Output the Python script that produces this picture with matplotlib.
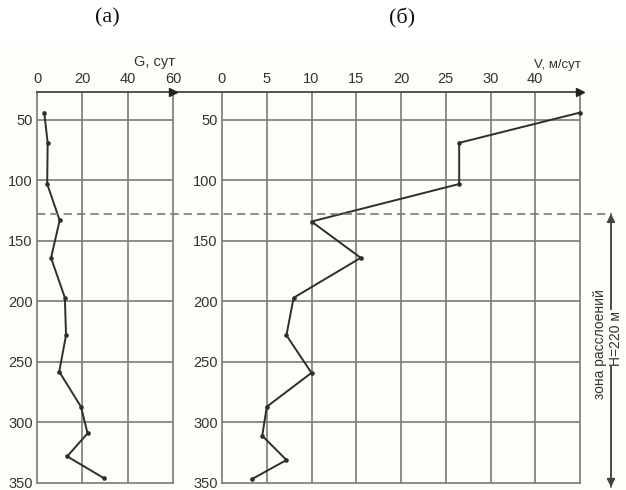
import matplotlib
matplotlib.use("Agg")
import matplotlib.pyplot as plt
from matplotlib.lines import Line2D
from matplotlib.patches import FancyArrowPatch, Rectangle
from matplotlib.transforms import blended_transform_factory

# ---- data ----
depth_G = [44, 69, 103, 133, 164, 197, 228, 258, 287, 309, 328, 346]
G_values = [3.2, 4.7, 4.5, 10.0, 6.2, 12.3, 12.8, 9.8, 19.4, 22.3, 13.3, 29.5]

depth_V = [44, 69, 103, 134, 164, 197, 228, 259, 287, 311, 331, 347]
V_values = [40.0, 26.5, 26.5, 10.0, 15.5, 8.0, 7.2, 10.0, 5.0, 4.5, 7.2, 3.3]

G_ticks = [0, 20, 40, 60]
G_ticklabels = ["0", "20", "40", "60"]
V_ticks = [0, 5, 10, 15, 20, 25, 30, 35]
V_ticklabels = ["0", "5", "10", "15", "20", "25", "30", "40"]
V_grid = [0, 5, 10, 15, 20, 25, 30, 35, 40]
depth_ticks = [50, 100, 150, 200, 250, 300, 350]
zone_top = 127.5

W, H = 626, 490
fig = plt.figure(figsize=(W / 100, H / 100), dpi=100, facecolor="white")
plt.rcParams["font.family"] = ["Liberation Sans", "DejaVu Sans"]

bg = "#fdfdf9"
fig.add_artist(Rectangle((0, 0), 1, (H - 45) / H, transform=fig.transFigure,
                         facecolor=bg, edgecolor="none", zorder=-10))

def fx(px):
    return px / W

def fy(py):
    return (H - py) / H

top_px, bot_px = 92, 483
ax1 = fig.add_axes([fx(37), fy(bot_px), fx(173) - fx(37), fy(top_px) - fy(bot_px)])
ax2 = fig.add_axes([fx(222), fy(bot_px), fx(580) - fx(222), fy(top_px) - fy(bot_px)])

grid_c = "#7a7a7a"
line_c = "#2e2e2e"
txt_c = "#333333"

for ax in (ax1, ax2):
    ax.set_facecolor("none")
    ax.set_ylim(350, 27)
    ax.set_yticks(depth_ticks)
    ax.set_yticklabels([str(d) for d in depth_ticks])
    ax.tick_params(axis="y", length=0, pad=3, labelsize=10.5, labelcolor=txt_c)
    ax.tick_params(axis="x", length=0, pad=4, labelsize=10.5, labelcolor=txt_c,
                   top=True, labeltop=True, bottom=False, labelbottom=False)
    for s in ("left", "right", "bottom"):
        ax.spines[s].set_color(grid_c)
        ax.spines[s].set_linewidth(1.2)
    ax.spines["top"].set_visible(False)
    for d in depth_ticks[:-1]:
        ax.axhline(d, color=grid_c, lw=1.2, zorder=1)

ax1.set_xlim(0, 60)
ax1.set_xticks(G_ticks)
ax1.set_xticklabels(G_ticklabels)
for g in G_ticks[1:-1]:
    ax1.axvline(g, color=grid_c, lw=1.2, zorder=1)
ax1.plot(G_values, depth_G, color=line_c, lw=1.4, marker="o", ms=2.3, zorder=3)

ax2.set_xlim(0, 40)
ax2.set_xticks(V_ticks)
ax2.set_xticklabels(V_ticklabels)
for v in V_grid[1:-1]:
    ax2.axvline(v, color=grid_c, lw=1.2, zorder=1)
ax2.plot(V_values, depth_V, color=line_c, lw=1.4, marker="o", ms=2.3, zorder=3,
         clip_on=False)

# top axis line with arrows
fig.add_artist(Line2D([fx(37), fx(578)], [fy(top_px), fy(top_px)],
                      transform=fig.transFigure, color="#444444", lw=1.3))
fig.add_artist(Line2D([fx(173)], [fy(top_px)], transform=fig.transFigure,
                      marker=">", ms=6, color="#222222", lw=0))
fig.add_artist(Line2D([fx(580)], [fy(top_px)], transform=fig.transFigure,
                      marker=">", ms=6, color="#222222", lw=0))

# axis titles
fig.text(fx(154), fy(62), "G, сут", ha="center", va="center", fontsize=10.5, color=txt_c)
fig.text(fx(557), fy(65), "V, м/сут", ha="center", va="center", fontsize=9.5, color=txt_c)

# panel titles
fig.text(fx(107), fy(18), "(а)", ha="center", va="center", fontsize=16,
         family=["Liberation Serif", "DejaVu Serif"], color="#111111")
fig.text(fx(402), fy(18), "(б)", ha="center", va="center", fontsize=16,
         family=["Liberation Serif", "DejaVu Serif"], color="#111111")

# dashed zone line
bt = blended_transform_factory(fig.transFigure, ax1.transData)
fig.add_artist(Line2D([fx(37), fx(612)], [zone_top, zone_top], transform=bt,
                      color="#7a7a7a", lw=1.2, ls=(0, (5, 3))))

# double arrow
for a, b in (((fx(611), zone_top), (fx(611), 353.5)),
             ((fx(611), 353.5), (fx(611), zone_top))):
    fig.add_artist(FancyArrowPatch(a, b, transform=bt,
                                   arrowstyle="-|>,head_length=5,head_width=2.5",
                                   color="#444444", lw=1.1, shrinkA=0, shrinkB=0))

fig.text(fx(600), fy(344), "зона расслоений", rotation=90, ha="center", va="center",
         fontsize=10, color=txt_c)
fig.text(fx(616), fy(338), "H=220 м", rotation=90, ha="center", va="center",
         fontsize=10, color=txt_c,
         bbox=dict(facecolor=bg, edgecolor="none", pad=0.5))

fig.savefig("out.png", dpi=100, facecolor="white")
